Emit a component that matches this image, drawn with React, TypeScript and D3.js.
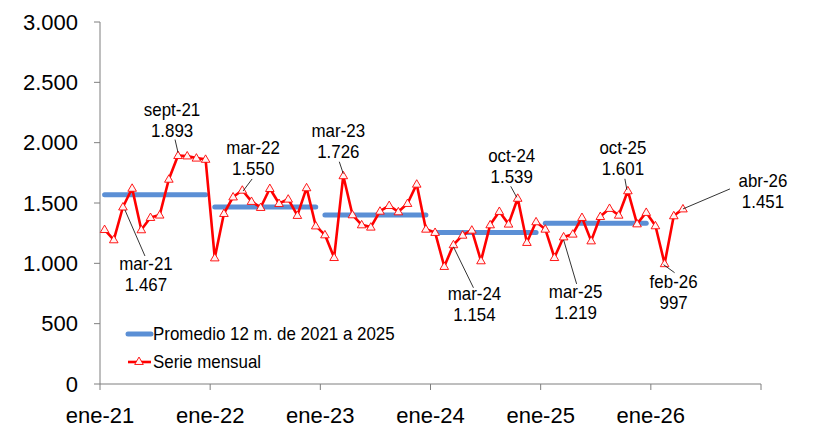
import React, { useEffect, useRef } from "react";
import * as d3 from "d3";

// ---- datos ----
const mesesAbrev = ["ene", "feb", "mar", "abr", "may", "jun", "jul", "ago", "sept", "oct", "nov", "dic"];
const anios = ["21", "22", "23", "24", "25", "26"];

// serie mensual ene-21 .. abr-26
const serieMensual = [
  1280, 1195, 1467, 1622, 1278, 1380, 1400, 1697, 1893, 1890, 1872, 1862, // 2021
  1045, 1413, 1550, 1606, 1513, 1463, 1620, 1496, 1532, 1397, 1626, 1310, // 2022
  1236, 1048, 1726, 1402, 1319, 1300, 1432, 1479, 1427, 1496, 1656, 1283, // 2023
  1256, 974, 1154, 1233, 1275, 1021, 1319, 1430, 1325, 1539, 1173, 1344, // 2024
  1283, 1048, 1219, 1242, 1380, 1186, 1388, 1455, 1399, 1601, 1327, 1422, // 2025
  1311, 997, 1394, 1451, // 2026
];

const promedioAnios = ["21", "22", "23", "24", "25"];
const promedio12m = [1568, 1467, 1401, 1255, 1332];

const yTicks = [0, 500, 1000, 1500, 2000, 2500, 3000];
const xTickLabels = ["ene-21", "ene-22", "ene-23", "ene-24", "ene-25", "ene-26", ""];

const mesesDestacados = ["mar-21", "sept-21", "mar-22", "mar-23", "mar-24", "oct-24", "mar-25", "oct-25", "feb-26", "abr-26"];

const leyenda = ["Promedio 12 m. de 2021 a 2025", "Serie mensual"];

export default function App() {
  const ref = useRef<SVGSVGElement | null>(null);

  useEffect(() => {
    const svg = d3.select(ref.current);
    svg.selectAll("*").remove();

    const dims = { width: 814, height: 436, left: 100, right: 761, top: 22, bottom: 384 };
    const font = "'Liberation Sans', Arial, sans-serif";
    const rojo = "#FF0000";
    const azul = "#5B8FD5";
    const ejeColor = "#7f7f7f";

    const categorias = anios.flatMap((a) => mesesAbrev.map((m) => `${m}-${a}`));
    const datos = serieMensual.map((v, i) => ({ mes: categorias[i], v }));

    const x = d3.scaleBand<string>().domain(categorias).range([dims.left, dims.right]).paddingInner(0).paddingOuter(0);
    const cx = (m: string) => (x(m) as number) + x.bandwidth() / 2;
    const y = d3.scaleLinear().domain([0, 3000]).range([dims.bottom, dims.top]);

    const fmt = d3
      .formatLocale({ decimal: ",", thousands: ".", grouping: [3], currency: ["", ""] })
      .format(",d");

    // texto algo estrecho, como en el original
    const narrowText = (g: any, tx: number, ty: number, t: string, anchor: string) =>
      g.append("text")
        .attr("transform", `translate(${tx},${ty}) scale(0.93,1)`)
        .attr("text-anchor", anchor).attr("dominant-baseline", "central")
        .attr("font-family", font).attr("font-size", 18.2)
        .text(t);

    //---- ejes ----//
    const yAxis = svg.append("g");
    yAxis
      .append("line")
      .attr("x1", dims.left).attr("x2", dims.left)
      .attr("y1", dims.top).attr("y2", dims.bottom)
      .attr("stroke", ejeColor);
    yTicks.forEach((t) => {
      yAxis.append("line")
        .attr("x1", dims.left - 6).attr("x2", dims.left)
        .attr("y1", y(t)).attr("y2", y(t))
        .attr("stroke", ejeColor);
      yAxis.append("text")
        .attr("x", 78).attr("y", y(t))
        .attr("text-anchor", "end").attr("dominant-baseline", "central")
        .attr("font-family", font).attr("font-size", 22)
        .text(fmt(t));
    });

    const xAxis = svg.append("g");
    xAxis.append("line")
      .attr("x1", dims.left).attr("x2", dims.right)
      .attr("y1", dims.bottom).attr("y2", dims.bottom)
      .attr("stroke", ejeColor);
    xTickLabels.forEach((lab, k) => {
      const px = k < anios.length ? (x(`ene-${anios[k]}`) as number) : dims.right;
      xAxis.append("line")
        .attr("x1", px).attr("x2", px)
        .attr("y1", dims.bottom).attr("y2", dims.bottom + 6)
        .attr("stroke", ejeColor);
      xAxis.append("text")
        .attr("x", px).attr("y", 415)
        .attr("text-anchor", "middle").attr("dominant-baseline", "central")
        .attr("font-family", font).attr("font-size", 22)
        .text(lab);
    });

    //---- promedios anuales ----//
    promedioAnios.forEach((a, k) => {
      svg.append("line")
        .attr("x1", cx(`ene-${a}`)).attr("x2", cx(`dic-${a}`))
        .attr("y1", y(promedio12m[k])).attr("y2", y(promedio12m[k]))
        .attr("stroke", azul).attr("stroke-width", 5).attr("stroke-linecap", "round");
    });

    //---- serie mensual ----//
    const line = d3.line<{ mes: string; v: number }>().x((d) => cx(d.mes)).y((d) => y(d.v));
    svg.append("path")
      .attr("d", line(datos))
      .attr("fill", "none").attr("stroke", rojo)
      .attr("stroke-width", 2.6).attr("stroke-linejoin", "round");

    const tri = d3.symbol().type(d3.symbolTriangle).size(32);
    svg.append("g")
      .selectAll("path")
      .data(datos)
      .join("path")
      .attr("d", tri)
      .attr("transform", (d) => `translate(${cx(d.mes)},${y(d.v) + 0.5})`)
      .attr("fill", "#fff4f4").attr("stroke", rojo).attr("stroke-width", 0.9);

    //---- etiquetas (posición relativa al punto) ----//
    const pos: Record<string, { dx: number; dy: number; l: number[] }> = {
      "mar-21": { dx: 23, dy: 57, l: [2, 3, 22, 49] },
      "sept-21": { dx: -6, dy: -45, l: [-3, -16, 0, -3] },
      "mar-22": { dx: 20, dy: -49, l: [19, -18, 10, -6] },
      "mar-23": { dx: -5, dy: -44, l: [-4, -14, 0, -2] },
      "mar-24": { dx: 21, dy: 50, l: [0, 2, 20, 43] },
      "oct-24": { dx: -6, dy: -42, l: [-7, -12, -1, -1] },
      "mar-25": { dx: 12, dy: 55, l: [0, 3, 13, 47] },
      "oct-25": { dx: -5, dy: -43, l: [-3, -12, -1, -1] },
      "feb-26": { dx: 9, dy: 19, l: [-1, 1, 10, 9] },
      "abr-26": { dx: 80, dy: -28, l: [0, 0, 47, -20] },
    };
    const etiquetas = svg.append("g");
    mesesDestacados.forEach((m) => {
      const i = categorias.indexOf(m);
      const px = cx(m);
      const py = y(serieMensual[i]);
      const p = pos[m];
      etiquetas.append("line")
        .attr("x1", px + p.l[0]).attr("y1", py + p.l[1])
        .attr("x2", px + p.l[2]).attr("y2", py + p.l[3])
        .attr("stroke", "#000").attr("stroke-width", 0.8);
      [m, fmt(serieMensual[i])].forEach((t, j) => {
        narrowText(etiquetas, px + p.dx, py + p.dy - 0.5 + j * 21, t, "middle");
      });
    });

    //---- leyenda ----//
    const leg = svg.append("g");
    leg.append("line")
      .attr("x1", 128).attr("x2", 151).attr("y1", 334).attr("y2", 334)
      .attr("stroke", azul).attr("stroke-width", 5).attr("stroke-linecap", "round");
    leg.append("line")
      .attr("x1", 128).attr("x2", 151).attr("y1", 362).attr("y2", 362)
      .attr("stroke", rojo).attr("stroke-width", 2.6);
    leg.append("path")
      .attr("d", tri)
      .attr("transform", "translate(139,362)")
      .attr("fill", "#fff4f4").attr("stroke", rojo).attr("stroke-width", 0.9);
    leyenda.forEach((t, k) => {
      narrowText(leg, 153, 334 + k * 28, t, "start");
    });
  }, []);

  return (
    <svg
      ref={ref}
      width={814}
      height={436}
      style={{ position: "absolute", left: 0, top: 0, background: "#fff" }}
    />
  );
}
